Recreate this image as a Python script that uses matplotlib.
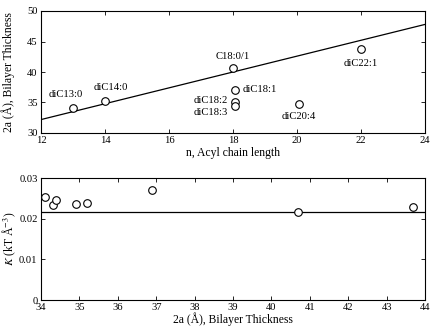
import matplotlib
matplotlib.use("Agg")
import matplotlib.pyplot as plt
import numpy as np

plt.rcParams['font.family'] = ['Liberation Serif', 'DejaVu Serif']
plt.rcParams['mathtext.fontset'] = 'stix'

# top panel: thickness vs chain length
chain_len = [13, 14, 18, 18.05, 18.05, 18.05, 20.05, 22]
thickness = [34.1, 35.2, 40.7, 37.1, 35.1, 34.5, 34.7, 43.7]
lipids = ['diC13:0', 'diC14:0', 'C18:0/1', 'diC18:1', 'diC18:2', 'diC18:3', 'diC20:4', 'diC22:1']
fit_x = [12, 24]
fit_y = [32.2, 47.8]

# bottom panel: modulus vs thickness
thick2 = [34.1, 34.3, 34.4, 34.9, 35.2, 36.9, 40.7, 43.7]
kappa = [0.0254, 0.0233, 0.0245, 0.0237, 0.0239, 0.0271, 0.0217, 0.0228]
kappa_mean = 0.0217

# label offsets in points (dx, dy, ha)
lbl_pos = [(-5, 10, 'center'), (4, 10, 'center'), (0, 8, 'center'), (6, 0, 'left'),
           (-5, 1, 'right'), (-5, -5, 'right'), (0, -9, 'center'), (0, -10, 'center')]

fig = plt.figure(figsize=(4.36, 3.28), dpi=100)
ax1 = fig.add_axes([41/436, 1-133/328, (425-41)/436, (133-11)/328])
ax2 = fig.add_axes([41/436, 1-300/328, (425-41)/436, (300-178)/328])

ax1.plot(fit_x, fit_y, c='k', lw=0.9)
ax1.scatter(chain_len, thickness, s=30, facecolors='w', edgecolors='k', linewidths=0.8, zorder=3)
for i in range(len(lipids)):
    dx, dy, ha = lbl_pos[i]
    ax1.annotate(lipids[i], (chain_len[i], thickness[i]), xytext=(dx, dy),
                 textcoords='offset points', ha=ha, va='center', fontsize=7.7)
ax1.set_xlim(12, 24)
ax1.set_ylim(30, 50)
ax1.set_xticks(np.arange(12, 25, 2))
ax1.set_yticks(np.arange(30, 51, 5))
ax1.set_xlabel('n, Acyl chain length', fontsize=8.4, labelpad=1)
ax1.set_ylabel('2a (Å), Bilayer Thickness', fontsize=8.4)

ax2.axhline(kappa_mean, c='k', lw=0.9)
ax2.scatter(thick2, kappa, s=30, facecolors='w', edgecolors='k', linewidths=0.8, zorder=3)
ax2.set_xlim(34, 44)
ax2.set_ylim(0, 0.03)
ax2.set_xticks(np.arange(34, 45, 1))
ax2.set_yticks([0, 0.01, 0.02, 0.03])
ax2.set_yticklabels(['0', '0.01', '0.02', '0.03'])
ax2.set_xlabel('2a (Å), Bilayer Thickness', fontsize=8.4, labelpad=0)
ax2.set_ylabel('$K$ (kT Å$^{-3}$)', fontsize=8.4)

for ax in (ax1, ax2):
    ax.tick_params(direction='in', top=True, right=True, labelsize=7.6, length=3, width=0.6, pad=2.5)
    ax.yaxis.set_label_coords(-26/384, 0.5)
    for sp in ax.spines.values():
        sp.set_linewidth(0.8)
ax2.yaxis.set_label_coords(-23/384, 0.5)

fig.savefig('out.png', dpi=100)
